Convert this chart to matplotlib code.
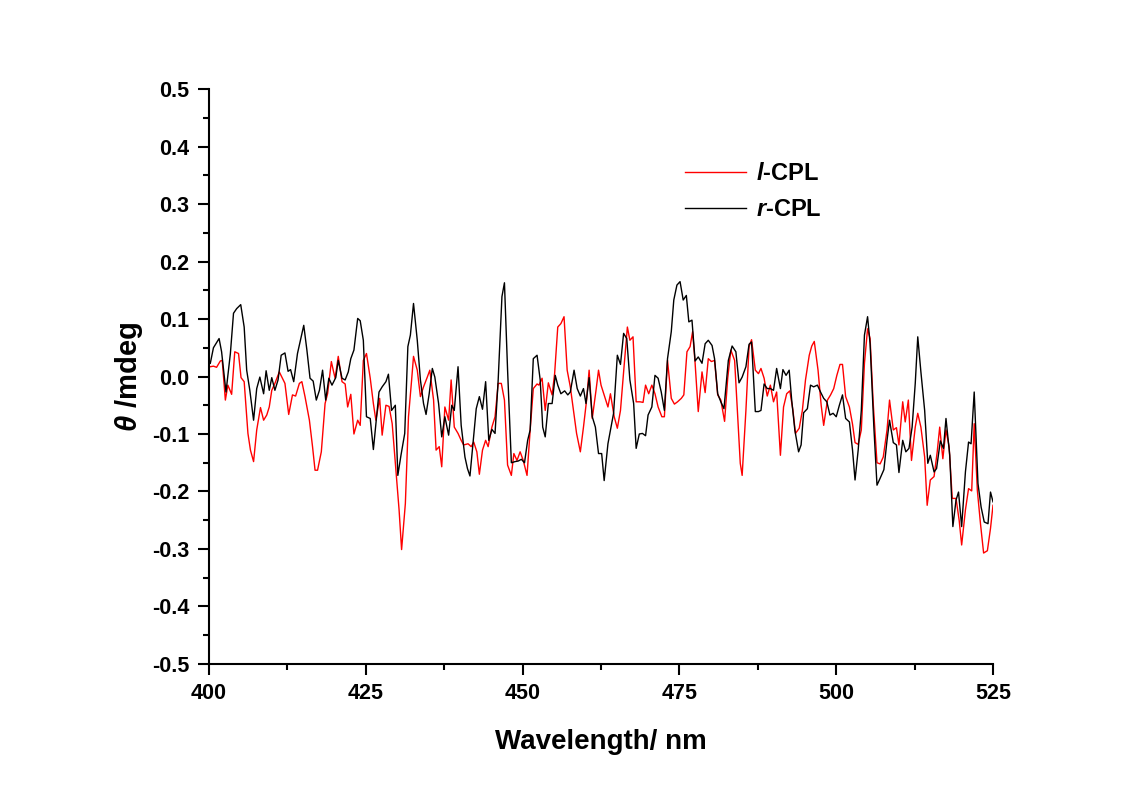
import numpy as np
import matplotlib
matplotlib.use("Agg")
import matplotlib.pyplot as plt
from matplotlib.ticker import MultipleLocator

plt.rcParams['font.family'] = ['Liberation Sans', 'DejaVu Sans']
plt.rcParams['mathtext.fontset'] = 'custom'
plt.rcParams['mathtext.it'] = 'Liberation Sans:italic:bold'
plt.rcParams['mathtext.rm'] = 'Liberation Sans:bold'

# l-CPL (red)
wl_l = [400.2, 400.7, 401.2, 401.8, 402.1, 402.6, 403.0, 403.6, 404.1, 404.7,
        405.1, 405.6, 406.2, 406.6, 407.1, 407.6, 408.2, 408.7, 409.2, 409.6,
        410.0, 410.5, 411.2, 411.7, 412.1, 412.7, 413.3, 413.8, 414.4, 414.8,
        415.3, 416.0, 416.5, 416.9, 417.3, 417.9, 418.5, 418.9, 419.5, 419.8,
        420.1, 420.6, 421.2, 421.7, 422.1, 422.6, 423.1, 423.7, 424.1, 424.6,
        425.1, 425.7, 426.2, 426.6, 427.2, 427.6, 428.2, 428.7, 429.2, 429.8,
        430.3, 430.7, 431.3, 431.8, 432.3, 432.6, 433.2, 433.7, 434.2, 434.8,
        435.2, 435.8, 436.2, 436.7, 437.1, 437.6, 438.2, 438.6, 439.1, 439.7,
        440.2, 440.6, 441.3, 441.8, 442.2, 442.7, 443.1, 443.6, 444.1, 444.5,
        445.1, 445.6, 446.1, 446.6, 447.1, 447.6, 448.2, 448.6, 449.1, 449.6,
        450.1, 450.7, 451.2, 451.7, 452.3, 452.6, 453.1, 453.6, 454.1, 454.7,
        455.1, 455.6, 456.1, 456.6, 457.1, 457.6, 458.1, 458.6, 459.2, 459.7,
        460.2, 460.6, 461.1, 461.7, 462.1, 462.5, 463.0, 463.6, 464.0, 464.6,
        465.1, 465.6, 466.1, 466.7, 467.1, 467.6, 468.1, 468.7, 469.2, 469.6,
        470.1, 470.6, 471.1, 471.6, 472.2, 472.6, 473.1, 473.7, 474.2, 474.7,
        475.3, 475.7, 476.2, 476.7, 477.1, 477.5, 478.0, 478.6, 479.1, 479.6,
        480.1, 480.6, 481.1, 481.6, 482.2, 482.7, 483.2, 483.8, 484.3, 484.7,
        485.0, 485.6, 486.1, 486.5, 487.1, 487.6, 488.0, 488.5, 489.0, 489.5,
        490.0, 490.5, 491.1, 491.6, 492.1, 492.6, 493.1, 493.5, 494.1, 494.6,
        495.1, 495.7, 496.1, 496.5, 497.1, 497.6, 498.0, 498.6, 499.1, 499.6,
        500.1, 500.6, 501.0, 501.5, 502.1, 502.6, 503.0, 503.5, 504.0, 504.5,
        505.0, 505.4, 505.9, 506.5, 507.0, 507.5, 508.1, 508.5, 509.1, 509.6,
        510.0, 510.6, 511.0, 511.5, 512.0, 512.6, 513.0, 513.5, 514.1, 514.5,
        515.0, 515.6, 516.1, 516.5, 517.0, 517.5, 518.0, 518.5, 519.1, 519.6,
        520.0, 520.6, 521.1, 521.6, 522.0, 522.5, 523.0, 523.5, 524.1, 524.6,
        525.0]
theta_l = [0.017, 0.018, 0.016, 0.027, 0.028, -0.041, -0.015, -0.031, 0.043, 0.040,
           -0.002, -0.009, -0.099, -0.128, -0.148, -0.093, -0.054, -0.076, -0.067, -0.053,
           -0.024, -0.012, 0.008, -0.003, -0.012, -0.066, -0.032, -0.034, -0.012, -0.009,
           -0.035, -0.076, -0.122, -0.163, -0.163, -0.131, -0.047, -0.030, 0.026, 0.011,
           -0.003, 0.035, -0.009, -0.013, -0.053, -0.031, -0.100, -0.076, -0.085, 0.028,
           0.040, -0.003, -0.047, -0.076, -0.038, -0.102, -0.050, -0.052, -0.082, -0.163,
           -0.232, -0.301, -0.221, -0.070, -0.006, 0.035, 0.011, -0.035, -0.018, -0.001,
           0.011, -0.041, -0.128, -0.122, -0.157, -0.053, -0.076, -0.006, -0.088, -0.099,
           -0.111, -0.119, -0.117, -0.122, -0.114, -0.131, -0.170, -0.128, -0.111, -0.122,
           -0.088, -0.070, -0.012, -0.012, -0.041, -0.154, -0.172, -0.134, -0.146, -0.131,
           -0.146, -0.172, -0.093, -0.021, -0.013, -0.015, -0.003, -0.059, -0.011, -0.032,
           0.005, 0.086, 0.092, 0.104, 0.011, -0.018, -0.059, -0.099, -0.131, -0.088,
           -0.041, 0.011, -0.073, -0.024, 0.011, -0.015, -0.032, -0.053, -0.030, -0.070,
           -0.090, -0.059, 0.008, 0.086, 0.063, 0.069, -0.044, -0.044, -0.045, -0.015,
           -0.030, -0.015, -0.030, -0.053, -0.070, -0.070, 0.028, -0.038, -0.048, -0.044,
           -0.038, -0.032, 0.043, 0.052, 0.078, 0.023, -0.061, 0.008, -0.028, 0.031,
           0.026, 0.028, -0.032, -0.041, -0.078, -0.003, 0.046, 0.028, -0.070, -0.151,
           -0.172, -0.059, 0.052, 0.064, 0.011, 0.005, 0.014, -0.003, -0.034, -0.015,
           -0.044, -0.027, -0.137, -0.053, -0.030, -0.025, -0.059, -0.099, -0.090, -0.059,
           -0.006, 0.037, 0.053, 0.061, 0.011, -0.050, -0.085, -0.041, -0.032, -0.021,
           0.002, 0.021, 0.021, -0.035, -0.053, -0.083, -0.115, -0.118, -0.093, 0.023,
           0.083, 0.066, -0.047, -0.150, -0.152, -0.140, -0.093, -0.041, -0.093, -0.089,
           -0.119, -0.044, -0.079, -0.041, -0.146, -0.088, -0.064, -0.088, -0.140, -0.224,
           -0.180, -0.174, -0.131, -0.088, -0.143, -0.093, -0.122, -0.212, -0.212, -0.250,
           -0.293, -0.232, -0.195, -0.199, -0.082, -0.198, -0.256, -0.307, -0.303, -0.264,
           -0.224]

# r-CPL (black)
wl_r = [400.2, 400.7, 401.6, 402.0, 402.7, 403.4, 403.9, 404.4, 405.05, 405.6,
        406.0, 406.5, 407.1, 407.6, 408.1, 408.7, 409.1, 409.6, 410.0, 410.5,
        411.0, 411.5, 412.1, 412.6, 413.0, 413.5, 414.1, 415.1, 415.6, 416.1,
        416.6, 417.1, 417.6, 418.1, 418.6, 419.1, 419.6, 420.2, 420.6, 421.2,
        421.7, 422.2, 422.6, 423.1, 423.7, 424.1, 424.6, 425.1, 425.7, 426.2,
        426.6, 427.1, 427.6, 428.2, 428.6, 429.1, 429.7, 430.1, 430.6, 431.2,
        431.7, 432.1, 432.6, 433.2, 433.7, 434.2, 434.6, 435.1, 435.6, 436.0,
        436.6, 437.1, 437.6, 438.2, 438.7, 439.1, 439.7, 440.2, 440.8, 441.2,
        441.6, 442.2, 442.6, 443.1, 443.6, 444.1, 444.6, 445.1, 445.6, 446.1,
        446.7, 447.1, 447.6, 448.2, 448.8, 449.3, 449.8, 450.3, 450.8, 451.2,
        451.7, 452.3, 452.8, 453.2, 453.6, 454.1, 454.7, 455.2, 455.6, 456.1,
        456.7, 457.2, 457.6, 458.2, 458.7, 459.2, 459.7, 460.1, 460.6, 461.1,
        461.6, 462.1, 462.6, 463.0, 463.6, 464.1, 464.5, 465.1, 465.6, 466.1,
        466.6, 467.1, 467.7, 468.1, 468.6, 469.1, 469.6, 470.0, 470.6, 471.1,
        471.6, 472.1, 472.6, 473.1, 473.7, 474.1, 474.6, 475.1, 475.6, 476.1,
        476.5, 477.0, 477.5, 478.0, 478.6, 479.1, 479.6, 480.2, 480.6, 481.1,
        481.6, 482.1, 482.8, 483.4, 484.0, 484.5, 485.0, 485.6, 486.1, 486.5,
        487.1, 487.6, 488.0, 488.5, 489.0, 489.5, 490.0, 490.5, 491.1, 491.5,
        492.0, 492.5, 492.9, 493.4, 494.0, 494.4, 494.8, 495.4, 495.9, 496.4,
        497.0, 497.5, 498.0, 498.5, 499.0, 499.5, 500.0, 500.5, 501.0, 501.5,
        502.1, 502.6, 503.0, 503.5, 504.0, 504.5, 505.0, 505.4, 506.0, 506.5,
        507.0, 507.6, 508.1, 508.5, 509.1, 509.6, 510.0, 510.6, 511.1, 511.6,
        512.1, 512.6, 513.0, 513.5, 514.1, 514.6, 515.0, 515.6, 516.0, 516.6,
        517.1, 517.5, 518.1, 518.6, 519.1, 519.5, 520.0, 520.6, 521.1, 521.5,
        522.0, 522.6, 523.1, 523.6, 524.2, 524.6, 525.0]
theta_r = [0.023, 0.050, 0.066, 0.043, -0.027, 0.040, 0.110, 0.118, 0.125, 0.086,
           0.011, -0.024, -0.076, -0.021, -0.001, -0.030, 0.010, -0.024, -0.002, -0.024,
           -0.006, 0.037, 0.041, 0.009, 0.012, -0.009, 0.040, 0.089, 0.046, -0.003,
           -0.008, -0.041, -0.024, 0.011, -0.041, -0.003, -0.015, -0.002, 0.028, -0.003,
           -0.006, 0.008, 0.031, 0.046, 0.101, 0.097, 0.063, -0.070, -0.073, -0.127,
           -0.082, -0.027, -0.018, -0.009, 0.004, -0.059, -0.050, -0.172, -0.137, -0.099,
           0.052, 0.072, 0.127, 0.063, -0.006, -0.047, -0.066, -0.030, 0.014, -0.001,
           -0.047, -0.105, -0.070, -0.102, -0.050, -0.059, 0.017, -0.085, -0.140, -0.160,
           -0.173, -0.102, -0.056, -0.035, -0.057, -0.009, -0.111, -0.092, -0.099, -0.006,
           0.139, 0.163, 0.011, -0.150, -0.148, -0.147, -0.144, -0.150, -0.111, -0.093,
           0.031, 0.037, -0.006, -0.088, -0.105, -0.047, -0.047, 0.002, -0.015, -0.030,
           -0.025, -0.032, -0.027, 0.011, -0.021, -0.034, -0.021, -0.047, -0.002, -0.070,
           -0.088, -0.134, -0.134, -0.181, -0.117, -0.088, -0.064, 0.037, 0.021, 0.075,
           0.066, -0.006, -0.047, -0.125, -0.100, -0.099, -0.103, -0.067, -0.053, 0.002,
           -0.003, -0.027, -0.059, 0.031, 0.078, 0.133, 0.159, 0.165, 0.133, 0.141,
           0.095, 0.098, 0.027, 0.034, 0.023, 0.057, 0.063, 0.054, 0.031, -0.030,
           -0.044, -0.056, 0.028, 0.053, 0.043, -0.011, -0.001, 0.017, 0.056, 0.060,
           -0.061, -0.061, -0.059, -0.013, -0.021, -0.021, -0.024, 0.014, -0.021, 0.012,
           0.002, 0.011, -0.041, -0.093, -0.131, -0.119, -0.063, -0.056, -0.015, -0.018,
           -0.015, -0.027, -0.038, -0.044, -0.067, -0.064, -0.070, -0.050, -0.032, -0.073,
           -0.079, -0.128, -0.180, -0.128, -0.059, 0.072, 0.104, 0.057, -0.088, -0.189,
           -0.177, -0.162, -0.111, -0.076, -0.115, -0.119, -0.167, -0.111, -0.131, -0.125,
           -0.088, -0.012, 0.069, 0.008, -0.059, -0.151, -0.137, -0.166, -0.160, -0.112,
           -0.125, -0.073, -0.137, -0.261, -0.215, -0.201, -0.261, -0.166, -0.114, -0.117,
           -0.027, -0.186, -0.227, -0.253, -0.256, -0.201, -0.218]

fig = plt.figure(figsize=(11.38, 7.87), dpi=100)
ax = fig.add_axes([0.1837, 0.1563, 0.6889, 0.7306])

ax.plot(wl_l, theta_l, color='#ff0000', lw=1.0, label=r'$l$-CPL')
ax.plot(wl_r, theta_r, color='black', lw=1.0, label=r'$r$-CPL')

ax.set_xlim(400, 525)
ax.set_ylim(-0.5, 0.5)
ax.xaxis.set_major_locator(MultipleLocator(25))
ax.xaxis.set_minor_locator(MultipleLocator(12.5))
ax.yaxis.set_major_locator(MultipleLocator(0.1))
ax.yaxis.set_minor_locator(MultipleLocator(0.05))
ax.yaxis.set_major_formatter(plt.FuncFormatter(lambda v, p: f"{v:.1f}"))

for s in ['top', 'right']:
    ax.spines[s].set_visible(False)
for s in ['left', 'bottom']:
    ax.spines[s].set_linewidth(1.5)

ax.tick_params(which='major', direction='out', length=8, width=1.5, labelsize=15.5, pad=6)
ax.tick_params(which='minor', direction='out', length=4.5, width=1.5)
for lab in ax.get_xticklabels() + ax.get_yticklabels():
    lab.set_fontweight('bold')

ax.set_xlabel('Wavelength/ nm', fontsize=20, fontweight='bold', labelpad=18)
ax.set_ylabel(r'$\theta$ /mdeg', fontsize=21, fontweight='bold', labelpad=5)

leg = ax.legend(loc='upper left', bbox_to_anchor=(0.58, 0.91), frameon=False,
                fontsize=17, handlelength=2.6, handletextpad=0.4, labelspacing=0.55)
for t in leg.get_texts():
    t.set_fontweight('bold')

fig.savefig('out.png', dpi=100)
